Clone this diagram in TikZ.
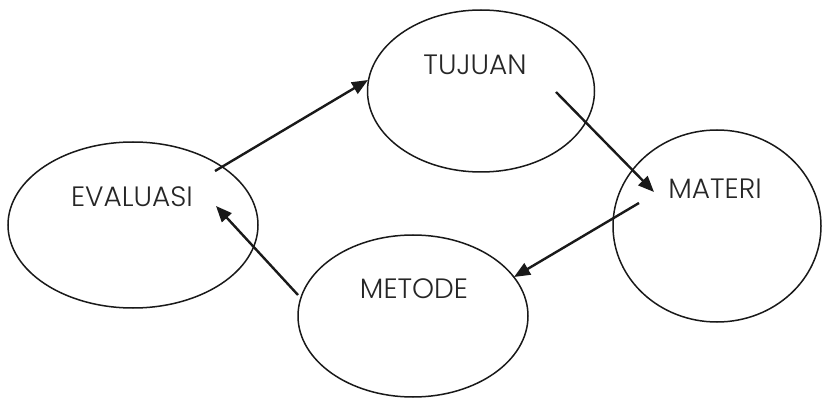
\documentclass[tikz,border=0pt]{standalone}
\usepackage{fontspec}
\setmainfont{Poppins}[UprightFont={* Light}]
\usetikzlibrary{shapes.geometric,arrows.meta}
\begin{document}
\begin{tikzpicture}[x=1pt,y=-1pt,
  oval/.style={draw=black!90, ellipse, line width=1.5pt, inner sep=0pt},
  lbl/.style={font=\fontsize{28}{30}\selectfont, text=black!85, inner sep=0pt},
  arr/.style={draw=black!90, line width=2.4pt, -{Triangle[length=16pt,width=13pt]}}]
\useasboundingbox (0,0) rectangle (822,398);
\node[oval, minimum width=227pt, minimum height=162pt] (tuj) at (481,91) {};
\node[oval, minimum width=250pt, minimum height=166pt] (eva) at (133,225) {};
\node[oval, minimum width=208pt, minimum height=192pt] (mat) at (717,226) {};
\node[oval, minimum width=230pt, minimum height=162pt] (met) at (413,316) {};
\node[lbl] (tujt) at (475,65) {TUJUAN};
\node[lbl] (evat) at (132,197) {EVALUASI};
\node[lbl] (metgt) at (414,289) {METODE};
\node[lbl] (matt) at (715,189) {MATERI};
\coordinate (a1s) at (215,171); \coordinate (a1e) at (368,80);
\coordinate (a2s) at (556,92);  \coordinate (a2e) at (654,192);
\coordinate (a3s) at (639,203); \coordinate (a3e) at (514,277);
\coordinate (a4s) at (298,295); \coordinate (a4e) at (216,206);
\draw[arr] (a1s) -- (a1e);
\draw[arr] (a2s) -- (a2e);
\draw[arr] (a3s) -- (a3e);
\draw[arr] (a4s) -- (a4e);
\end{tikzpicture}
\end{document}
